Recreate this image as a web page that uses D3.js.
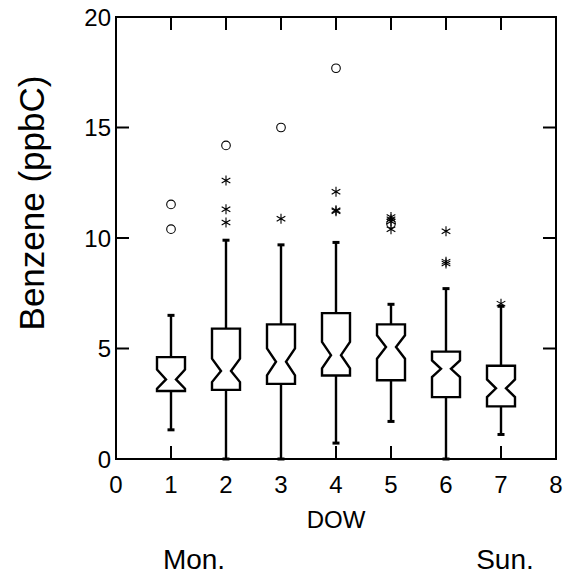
<!DOCTYPE html>
<html lang="en">
<head>
  <meta charset="utf-8">
  <title>Benzene by day of week</title>
  <script src="https://d3js.org/d3.v7.min.js"></script>
  <style>
    html, body {
      margin: 0;
      padding: 0;
      background: #fff;
    }
    svg {
      display: block;
      font-family: "Liberation Sans", Arial, sans-serif;
    }
    .frame { fill: none; stroke: #000; stroke-width: 2px; }
    .tick { stroke: #000; stroke-width: 2px; }
    .box { fill: #fff; stroke: #000; stroke-width: 2.4px; stroke-linejoin: miter; }
    .whisker { stroke: #000; stroke-width: 2.4px; }
    .cap { stroke: #000; stroke-width: 3px; }
    .star { fill: none; stroke: #000; stroke-width: 1.1px; }
    .far { fill: none; stroke: #000; stroke-width: 1.1px; }
  </style>
</head>
<body>
  <svg width="564" height="575"></svg>
  <script>
    // day of week (1 = Mon ... 7 = Sun)
    const days = [1, 2, 3, 4, 5, 6, 7];
    const whiskerLo = [1.32, 0.0, 0.0, 0.72, 1.70, 0.0, 1.11];
    const q1 = [3.08, 3.13, 3.40, 3.78, 3.56, 2.80, 2.38];
    const notchLo = [3.18, 3.48, 3.78, 4.10, 4.54, 3.71, 2.80];
    const median = [3.60, 3.98, 4.40, 4.70, 5.07, 4.08, 3.20];
    const notchHi = [4.05, 4.54, 5.00, 5.30, 5.60, 4.46, 3.60];
    const q3 = [4.61, 5.90, 6.09, 6.60, 6.09, 4.86, 4.22];
    const whiskerHi = [6.50, 9.90, 9.69, 9.80, 7.00, 7.71, 6.91];

    // outside values (stars) and far outside values (circles)
    const starDay = [2, 2, 2, 3, 4, 4, 4, 5, 5, 5, 5, 6, 6, 6, 7];
    const starVal = [12.6, 11.3, 10.7, 10.87, 12.09, 11.21, 11.26, 10.95, 10.85, 10.75, 10.4, 10.31, 8.85, 8.93, 7.03];
    const circleDay = [1, 1, 2, 3, 4, 5];
    const circleVal = [11.52, 10.40, 14.19, 15.0, 17.68, 10.65];

    const xTicks = [0, 1, 2, 3, 4, 5, 6, 7, 8];
    const yTicks = [0, 5, 10, 15, 20];

    const svg = d3.select("svg");
    const pLeft = 116, pRight = 556, pTop = 17, pBottom = 459;

    const x = d3.scaleLinear().domain([0, 8]).range([pLeft, pRight]);
    const y = d3.scaleLinear().domain([0, 20]).range([pBottom, pTop]);

    const boxHalf = 14;   // half width of the box, px
    const notchHalf = 5;  // half width at the median, px
    const capHalf = 3.5;
    const tickLen = 13;

    // inner ticks on all four sides
    const g = svg.append("g");
    xTicks.filter(d => d > 0 && d < 8).forEach(d => {
      g.append("line").attr("class", "tick")
        .attr("x1", x(d)).attr("x2", x(d)).attr("y1", pBottom).attr("y2", pBottom - tickLen);
      g.append("line").attr("class", "tick")
        .attr("x1", x(d)).attr("x2", x(d)).attr("y1", pTop).attr("y2", pTop + tickLen);
    });
    yTicks.filter(d => d > 0 && d < 20).forEach(d => {
      g.append("line").attr("class", "tick")
        .attr("x1", pLeft).attr("x2", pLeft + tickLen).attr("y1", y(d)).attr("y2", y(d));
      g.append("line").attr("class", "tick")
        .attr("x1", pRight).attr("x2", pRight - tickLen).attr("y1", y(d)).attr("y2", y(d));
    });

    // tick labels
    svg.append("g").selectAll("text").data(xTicks).join("text")
      .attr("x", d => x(d)).attr("y", 493)
      .attr("text-anchor", "middle").attr("font-size", 24)
      .text(d => d);
    svg.append("g").selectAll("text").data(yTicks).join("text")
      .attr("x", pLeft - 5).attr("y", d => y(d)).attr("dy", "0.36em")
      .attr("text-anchor", "end").attr("font-size", 24)
      .text(d => d);

    // whiskers
    const bp = svg.append("g");
    days.forEach((d, i) => {
      const cx = x(d);
      bp.append("line").attr("class", "whisker")
        .attr("x1", cx).attr("x2", cx).attr("y1", y(whiskerHi[i])).attr("y2", y(q3[i]));
      bp.append("line").attr("class", "whisker")
        .attr("x1", cx).attr("x2", cx).attr("y1", y(q1[i])).attr("y2", y(whiskerLo[i]));
      [whiskerHi[i], whiskerLo[i]].forEach(v => {
        bp.append("line").attr("class", "cap")
          .attr("x1", cx - capHalf).attr("x2", cx + capHalf)
          .attr("y1", y(v)).attr("y2", y(v));
      });
    });

    // notched boxes
    const line = d3.line();
    days.forEach((d, i) => {
      const cx = x(d);
      const pts = [
        [cx - boxHalf, y(q3[i])], [cx + boxHalf, y(q3[i])],
        [cx + boxHalf, y(notchHi[i])], [cx + notchHalf, y(median[i])],
        [cx + boxHalf, y(notchLo[i])], [cx + boxHalf, y(q1[i])],
        [cx - boxHalf, y(q1[i])], [cx - boxHalf, y(notchLo[i])],
        [cx - notchHalf, y(median[i])], [cx - boxHalf, y(notchHi[i])]
      ];
      bp.append("path").attr("class", "box").attr("d", line(pts) + "Z");
    });

    // outside values
    const r = 5;
    const starPath = [90, 30, -30].map(a => {
      const t = a * Math.PI / 180;
      const dx = r * Math.cos(t), dy = r * Math.sin(t);
      return `M${dx},${-dy}L${-dx},${dy}`;
    }).join("");
    svg.append("g").selectAll("path").data(starDay).join("path")
      .attr("class", "star")
      .attr("transform", (d, i) => `translate(${x(d)},${y(starVal[i])})`)
      .attr("d", starPath);
    svg.append("g").selectAll("circle").data(circleDay).join("circle")
      .attr("class", "far")
      .attr("cx", d => x(d)).attr("cy", (d, i) => y(circleVal[i]))
      .attr("r", 4.3);

    // frame
    svg.append("rect").attr("class", "frame")
      .attr("x", pLeft).attr("y", pTop)
      .attr("width", pRight - pLeft).attr("height", pBottom - pTop);

    // titles
    svg.append("text")
      .attr("x", x(4)).attr("y", 528)
      .attr("text-anchor", "middle").attr("font-size", 24)
      .text("DOW");
    svg.append("text")
      .attr("transform", "translate(44,203) rotate(-90)")
      .attr("text-anchor", "middle").attr("font-size", 35)
      .text("Benzene (ppbC)");
    svg.append("text")
      .attr("x", 194).attr("y", 569)
      .attr("text-anchor", "middle").attr("font-size", 28)
      .text("Mon.");
    svg.append("text")
      .attr("x", 505).attr("y", 569)
      .attr("text-anchor", "middle").attr("font-size", 28)
      .text("Sun.");
  </script>
</body>
</html>
